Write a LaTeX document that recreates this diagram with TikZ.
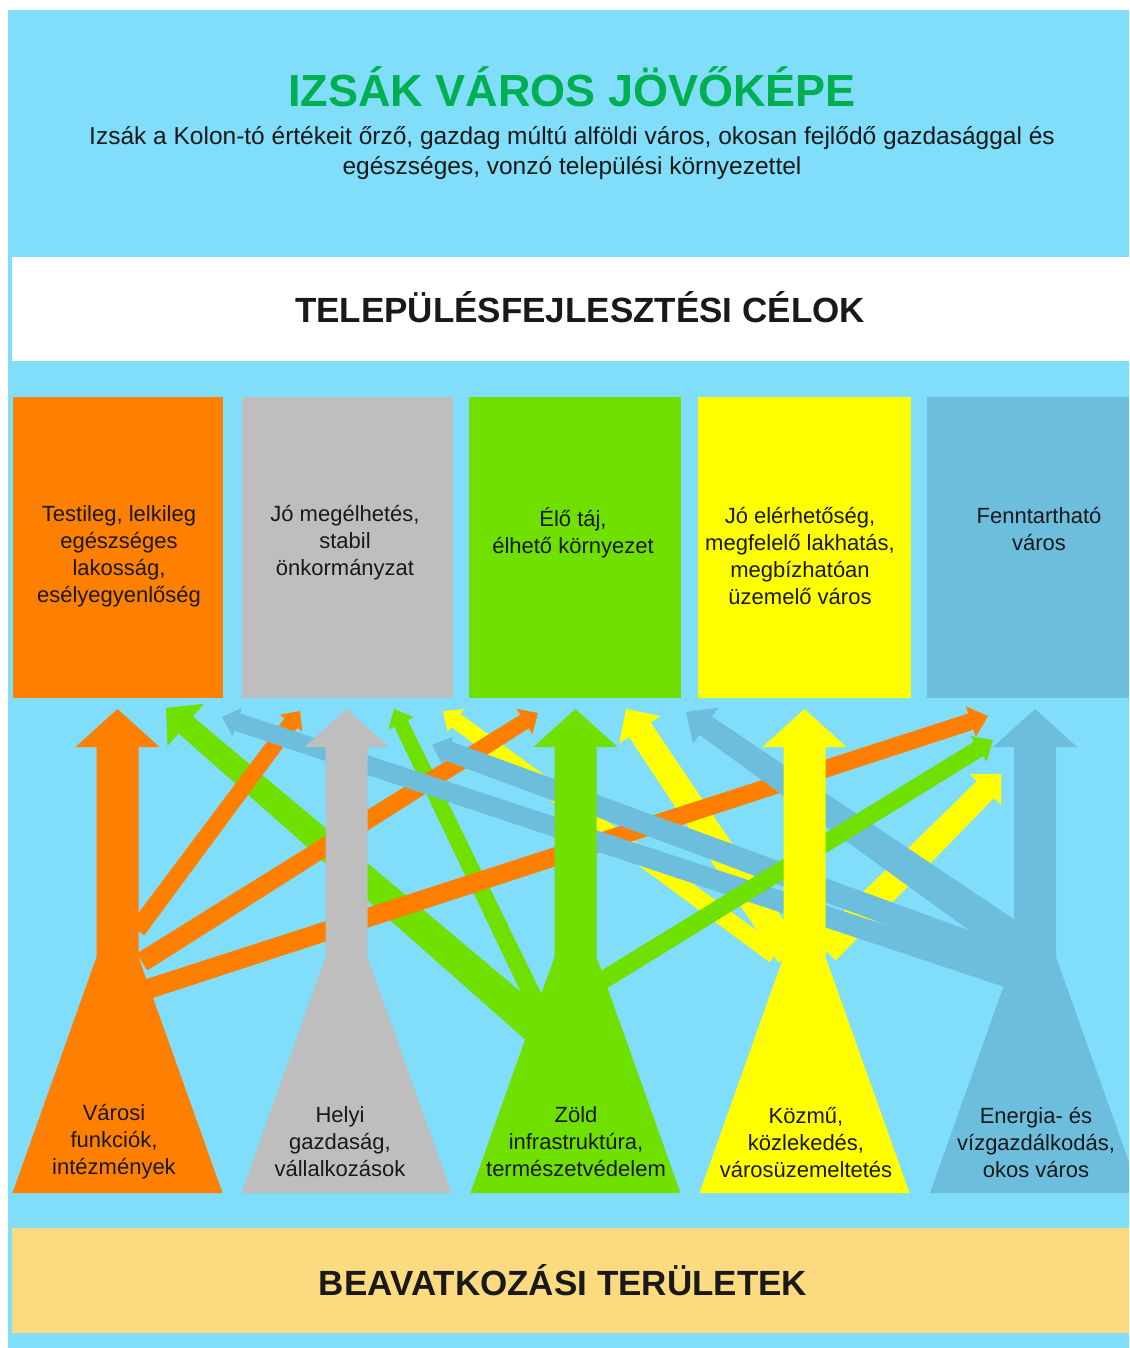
\documentclass[tikz,border=0pt]{standalone}
\usepackage{fontspec}
\setmainfont{Liberation Sans}
\usetikzlibrary{calc}
\definecolor{bg}{RGB}{128,222,250}
\definecolor{cOr}{RGB}{255,128,0}
\definecolor{cGy}{RGB}{190,190,190}
\definecolor{cGr}{RGB}{112,224,0}
\definecolor{cYe}{RGB}{255,255,0}
\definecolor{cBl}{RGB}{108,190,220}
\definecolor{cBand}{RGB}{252,219,128}
\definecolor{cTitle}{RGB}{0,176,80}
\definecolor{cTxt}{RGB}{25,25,25}
% branch arrow: colour, start, tip, half-width at start, half-width at head, head half-width, head length
\newcommand{\branch}[7]{%
  \coordinate (hb) at ($(#3)!#7pt!(#2)$);
  \fill[#1] ($(#2)!#4pt!90:(#3)$) -- ($(hb)!#5pt!90:(#3)$) -- ($(hb)!#6pt!90:(#3)$) -- (#3)
    -- ($(hb)!#6pt!-90:(#3)$) -- ($(hb)!#5pt!-90:(#3)$) -- ($(#2)!#4pt!-90:(#3)$) -- cycle;
}
% trunk: colour, centre x
\newcommand{\trunk}[2]{%
  \fill[#1] (#2-105,1193) -- (#2-21,957) -- (#2-21,747) -- (#2-42,747) -- (#2,709)
    -- (#2+42,747) -- (#2+21,747) -- (#2+21,957) -- (#2+105,1193) -- cycle;
}
\begin{document}
\begin{tikzpicture}[x=1pt,y=-1pt,
  goalbox/.style={rectangle, inner sep=0pt, minimum width=#1, minimum height=301pt},
  txt/.style={align=center, font=\fontsize{22}{27}\selectfont, text=cTxt, inner sep=0pt},
  bigtxt/.style={align=center, font=\fontsize{35}{40}\selectfont\bfseries, text=cTxt, inner sep=0pt}]
\useasboundingbox (0,0) rectangle (1129,1348);
\fill[white] (0,0) rectangle (1129,1348);
\fill[bg] (8,10) rectangle (1129,1348);
\fill[white] (12,257) rectangle (1129,361);
\fill[cBand] (12,1228) rectangle (1129,1333);

% header
\node[font=\fontsize{45}{50}\selectfont\bfseries, text=cTitle, inner sep=0pt] (title) at (572,87) {IZSÁK VÁROS JÖVŐKÉPE};
\node[txt, font=\fontsize{24.5}{30}\selectfont] (vision) at (572,153) {Izsák a Kolon-tó értékeit őrző, gazdag múltú alföldi város, okosan fejlődő gazdasággal és\\egészséges, vonzó települési környezettel};
\node[bigtxt] (goalhead) at (580,307) {TELEPÜLÉSFEJLESZTÉSI CÉLOK};
\node[bigtxt] (areahead) at (563,1280) {BEAVATKOZÁSI TERÜLETEK};

% goal boxes
\node[goalbox=210pt, fill=cOr] (g1) at (118,547.5) {};
\node[goalbox=211pt, fill=cGy] (g2) at (347.5,547.5) {};
\node[goalbox=212pt, fill=cGr] (g3) at (575,547.5) {};
\node[goalbox=213pt, fill=cYe] (g4) at (804.5,547.5) {};
\node[goalbox=202pt, fill=cBl] (g5) at (1028,547.5) {};

% start points on the areas and tips at the goals
\coordinate (oA) at (137,930);  \coordinate (oAt) at (300,711);
\coordinate (oB) at (142,962);  \coordinate (oBt) at (538,713);
\coordinate (oC) at (145,990);  \coordinate (oCt) at (988,716);
\coordinate (gA) at (540,1030); \coordinate (gAt) at (166,708);
\coordinate (gB) at (537,1005); \coordinate (gBt) at (394,709);
\coordinate (gC) at (600,982);  \coordinate (gCt) at (993,740);
\coordinate (yA) at (775,955);  \coordinate (yAt) at (443,711);
\coordinate (yB) at (790,955);  \coordinate (yBt) at (626,709);
\coordinate (yC) at (825,950);  \coordinate (yCt) at (1001,774);
\coordinate (bA) at (1012,978); \coordinate (bAt) at (222,717);
\coordinate (bB) at (1015,960); \coordinate (bBt) at (432,745);
\coordinate (bC) at (1020,945); \coordinate (bCt) at (686,712);

% branches
\branch{cYe}{yA}{yAt}{9}{8}{14}{16}
\branch{cYe}{yB}{yBt}{14}{13}{25}{25}
\branch{cYe}{yC}{yCt}{15}{12}{22}{22}
\branch{cGr}{gA}{gAt}{17}{11}{28}{26}
\branch{cGr}{gB}{gBt}{9}{7.5}{14}{16}
\branch{cOr}{oA}{oAt}{9}{8}{14}{15}
\branch{cOr}{oB}{oBt}{10}{8}{15}{16}
\branch{cOr}{oC}{oCt}{10}{8.5}{16}{18}
\branch{cBl}{bA}{bAt}{11}{9}{15}{16}
\branch{cBl}{bB}{bBt}{12}{10}{15}{17}
\branch{cBl}{bC}{bCt}{18}{11}{22}{24}
\branch{cGr}{gC}{gCt}{9}{8.5}{15}{17}

% trunks
\begin{scope}
\clip (0,0) rectangle (1129,1348);
\trunk{cOr}{117.5}
\trunk{cGy}{346.5}
\trunk{cGr}{575.5}
\trunk{cYe}{804.5}
\trunk{cBl}{1035}
\end{scope}

% goal texts
\node[txt] (g1t) at (119,556) {Testileg, lelkileg\\egészséges\\lakosság,\\esélyegyenlőség};
\node[txt] (g2t) at (345,543) {Jó megélhetés,\\stabil\\önkormányzat};
\node[txt] (g3t) at (573,533) {Élő táj,\\élhető környezet};
\node[txt] (g4t) at (800,556) {Jó elérhetőség,\\megfelelő lakhatás,\\megbízhatóan\\üzemelő város};
\node[txt] (g5t) at (1039,529) {Fenntartható\\város};

% area texts
\node[txt] (a1t) at (114,1142) {Városi\\funkciók,\\intézmények};
\node[txt] (a2t) at (340,1142) {Helyi\\gazdaság,\\vállalkozások};
\node[txt] (a3t) at (576,1142) {Zöld\\infrastruktúra,\\természetvédelem};
\node[txt] (a4t) at (806,1142) {Közmű,\\közlekedés,\\városüzemeltetés};
\node[txt] (a5t) at (1036,1142) {Energia- és\\vízgazdálkodás,\\okos város};
\end{tikzpicture}
\end{document}
